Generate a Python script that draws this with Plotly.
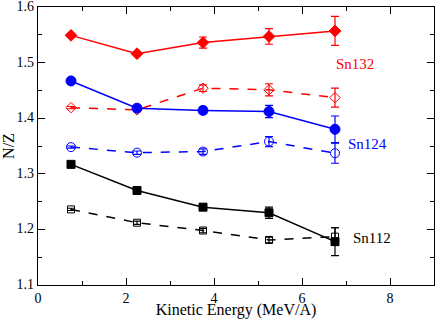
import plotly.graph_objects as go

energy = [0.75, 2.25, 3.75, 5.25, 6.75]

sn132_solid = [1.549, 1.516, 1.536, 1.547, 1.557]
sn132_solid_err = [0.003, 0.003, 0.010, 0.014, 0.026]
sn132_open = [1.419, 1.415, 1.454, 1.451, 1.437]
sn132_open_err = [0.002, 0.003, 0.006, 0.011, 0.017]

sn124_solid = [1.467, 1.418, 1.414, 1.412, 1.380]
sn124_solid_err = [0.003, 0.004, 0.006, 0.011, 0.024]
sn124_open = [1.348, 1.338, 1.340, 1.358, 1.337]
sn124_open_err = [0.002, 0.003, 0.005, 0.009, 0.018]

sn112_solid = [1.317, 1.270, 1.240, 1.230, 1.178]
sn112_solid_err = [0.003, 0.003, 0.005, 0.010, 0.025]
sn112_open = [1.236, 1.212, 1.198, 1.181, 1.187]
sn112_open_err = [0.002, 0.003, 0.004, 0.005, 0.016]

labels = ["Sn132", "Sn124", "Sn112"]
label_x = [7.2, 7.48, 7.59]
label_y = [1.498, 1.354, 1.184]
colors = ["#ff0000", "#0000ff", "#000000"]

SERIF = "Liberation Serif"

fig = go.Figure()

def add(y, err, color, symbol, size, dash):
    fig.add_trace(go.Scatter(
        x=energy, y=y, mode="lines+markers",
        line=dict(color=color, width=1.5, dash=dash),
        marker=dict(symbol=symbol, size=size, color=color,
                    line=dict(color=color, width=1)),
        error_y=dict(type="data", array=err, visible=True, color=color,
                     thickness=1.2, width=4),
        showlegend=False))

add(sn132_solid, sn132_solid_err, colors[0], "diamond", 9, "solid")
add(sn132_open, sn132_open_err, colors[0], "diamond-open", 8, "dash")
add(sn124_solid, sn124_solid_err, colors[1], "circle", 10, "solid")
add(sn124_open, sn124_open_err, colors[1], "circle-open", 9, "dash")
add(sn112_solid, sn112_solid_err, colors[2], "square", 8, "solid")
add(sn112_open, sn112_open_err, colors[2], "square-open", 7, "dash")

for t, x, y, c in zip(labels, label_x, label_y, colors):
    fig.add_annotation(x=x, y=y, xref="x", yref="y", text=t, showarrow=False,
                       font=dict(family=SERIF, size=15, color=c))

axis_common = dict(showgrid=False, zeroline=False, showline=True, linecolor="black",
                   linewidth=1.3, mirror="allticks", ticks="inside", ticklen=7,
                   tickcolor="black", tickwidth=1, automargin=False,
                   ticklabeloverflow="allow",
                   tickfont=dict(family=SERIF, size=14, color="black"))

fig.update_xaxes(range=[0, 9], dtick=2, tick0=0,
                 minor=dict(dtick=1, ticks="inside", ticklen=4, tickcolor="black"),
                 title=dict(text="Kinetic Energy (MeV/A)", standoff=3,
                            font=dict(family=SERIF, size=16, color="black")),
                 **axis_common)
fig.update_yaxes(range=[1.1, 1.6], dtick=0.1, tick0=1.1, tickformat=".1f",
                 ticklabelshift=-1,
                 minor=dict(dtick=0.05, ticks="inside", ticklen=4, tickcolor="black"),
                 title=dict(text="N/Z", standoff=2,
                            font=dict(family=SERIF, size=16, color="black")),
                 **axis_common)

fig.update_layout(width=436, height=319, margin=dict(l=38, r=2, t=7, b=34),
                  plot_bgcolor="white", paper_bgcolor="white",
                  font=dict(family=SERIF))

fig.write_html("out.html", config={"displayModeBar": False},
               post_script="document.body.style.margin='0';")
